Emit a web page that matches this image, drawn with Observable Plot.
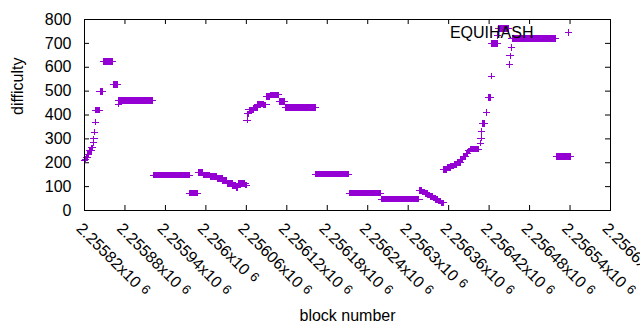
<!DOCTYPE html>
<html>
<head>
<meta charset="utf-8">
<script src="https://cdn.jsdelivr.net/npm/d3@7"></script>
<script src="https://cdn.jsdelivr.net/npm/@observablehq/plot@0.6"></script>
<style>
  html, body { margin: 0; padding: 0; background: #fff; }
  svg { display: block; }
</style>
</head>
<body>
<script>
// ---- data (block offsets relative to blockBase; each run = consecutive blocks with one difficulty) ----
const blockBase = 2255820;
const runStartOffset = [0, 1, 3, 5, 7, 11, 13, 14, 15, 16, 17, 23, 28, 43, 50, 51, 102, 156, 169, 176, 187, 197, 205, 212, 220, 225, 228, 239, 241, 242, 244, 251, 257, 266, 270, 276, 289, 298, 343, 393, 440, 497, 501, 505, 509, 513, 517, 521, 525, 529, 533, 538, 543, 548, 553, 558, 562, 566, 569, 572, 587, 588, 589, 590, 596, 599, 603, 604, 613, 614, 630, 631, 633, 634, 700];
const runEndOffset   = [0, 2, 4, 6, 10, 12, 13, 14, 15, 16, 22, 27, 42, 49, 50, 101, 155, 168, 175, 186, 196, 204, 211, 219, 224, 227, 238, 240, 241, 243, 250, 256, 265, 269, 275, 288, 297, 342, 392, 439, 496, 500, 504, 508, 512, 516, 520, 524, 528, 532, 537, 542, 547, 552, 557, 561, 565, 568, 571, 584, 587, 588, 589, 593, 596, 602, 603, 612, 613, 629, 630, 632, 633, 699, 720];
const runDifficulty  = [208, 214, 222, 236, 250, 262, 285, 300, 328, 370, 420, 499, 624, 528, 445, 461, 148, 73, 160, 149, 142, 135, 125, 114, 105, 97, 114, 106, 379, 405, 421, 430, 445, 442, 477, 484, 456, 432, 152, 73, 48, 84, 78, 72, 65, 58, 52, 46, 40, 32, 172, 180, 186, 192, 200, 212, 226, 240, 250, 257, 282, 303, 330, 365, 411, 474, 563, 700, 733, 762, 612, 648, 683, 721, 227];

const xTicks = [2255820, 2255880, 2255940, 2256000, 2256060, 2256120, 2256180, 2256240, 2256300, 2256360, 2256420, 2256480, 2256540, 2256600];
const xTickLabels = ["2.25582x10", "2.25588x10", "2.25594x10", "2.256x10", "2.25606x10", "2.25612x10", "2.25618x10", "2.25624x10", "2.2563x10", "2.25636x10", "2.25642x10", "2.25648x10", "2.25654x10", "2.2566x10"];
const xTickExponent = "6";
const yTicks = [0, 100, 200, 300, 400, 500, 600, 700, 800];
const seriesName = "EQUIHASH";
const xLabel = "block number";
const yLabel = "difficulty";

// ---- expand runs to one point per block ----
const points = [];
runStartOffset.forEach((s, i) => {
  for (let b = s; b <= runEndOffset[i]; b++) points.push({block: blockBase + b, difficulty: runDifficulty[i]});
});

const purple = "#9400d3";
const plusSymbol = {
  draw(context, size) {
    const r = Math.sqrt(size / Math.PI);
    context.moveTo(-r, 0); context.lineTo(r, 0);
    context.moveTo(0, -r * 0.9); context.lineTo(0, r * 0.9);
  }
};

const W = 640, H = 330, mL = 84, mR = 30, mT = 19, mB = 120;
const pw = W - mL - mR, ph = H - mT - mB, tk = 5;
const font = "'Liberation Sans', Arial, Helvetica, sans-serif";
const fs = 16;

const chart = Plot.plot({
  width: W, height: H,
  marginLeft: mL, marginRight: mR, marginTop: mT, marginBottom: mB,
  style: {fontFamily: font, fontSize: fs + "px", color: "#000", background: "#fff", overflow: "visible"},
  x: {domain: [xTicks[0], xTicks[xTicks.length - 1]], axis: null},
  y: {domain: [yTicks[0], yTicks[yTicks.length - 1]], axis: null},
  marks: [
    Plot.ruleY(yTicks, {y: d => d, insetRight: pw - tk, stroke: "#000"}),
    Plot.ruleY(yTicks, {y: d => d, insetLeft: pw - tk, stroke: "#000"}),
    Plot.ruleX(xTicks, {x: d => d, insetTop: ph - tk, stroke: "#000"}),
    Plot.ruleX(xTicks, {x: d => d, insetBottom: ph - tk, stroke: "#000"}),
    Plot.axisY(yTicks, {tickSize: 0, tickPadding: 13, fontSize: fs, label: null}),
    Plot.text(xTicks, {x: d => d, text: (d, i) => xTickLabels[i], frameAnchor: "bottom", rotate: 45,
      textAnchor: "start", lineAnchor: "top", dy: 11, dx: -1, fontSize: fs, className: "xticklab", fill: "#000"}),
    Plot.dot(points, {x: "block", y: "difficulty", symbol: plusSymbol, r: 3.6, stroke: purple, fill: "none",
      strokeWidth: 1, shapeRendering: "crispEdges"}),
    Plot.frame({stroke: "#000"}),
    Plot.text([seriesName], {frameAnchor: "top-right", dx: -77, dy: 13, textAnchor: "end", lineAnchor: "middle", fontSize: fs, fill: "#000"}),
    Plot.dot([seriesName], {frameAnchor: "top-right", dx: -42, dy: 13, symbol: plusSymbol, r: 3.6, stroke: purple, fill: "none", strokeWidth: 1, shapeRendering: "crispEdges"}),
    Plot.text([xLabel], {frameAnchor: "bottom", dy: 105, lineAnchor: "middle", fontSize: fs, fill: "#000"}),
    Plot.text([yLabel], {frameAnchor: "left", dx: -67, rotate: -90, lineAnchor: "middle", fontSize: fs, fill: "#000"})
  ]
});

d3.select(chart).selectAll("g.xticklab text").each(function () {
  d3.select(this).append("tspan").attr("dx", 5).attr("dy", -3).attr("font-size", 13).text(xTickExponent);
});

document.body.appendChild(chart);
</script>
</body>
</html>
